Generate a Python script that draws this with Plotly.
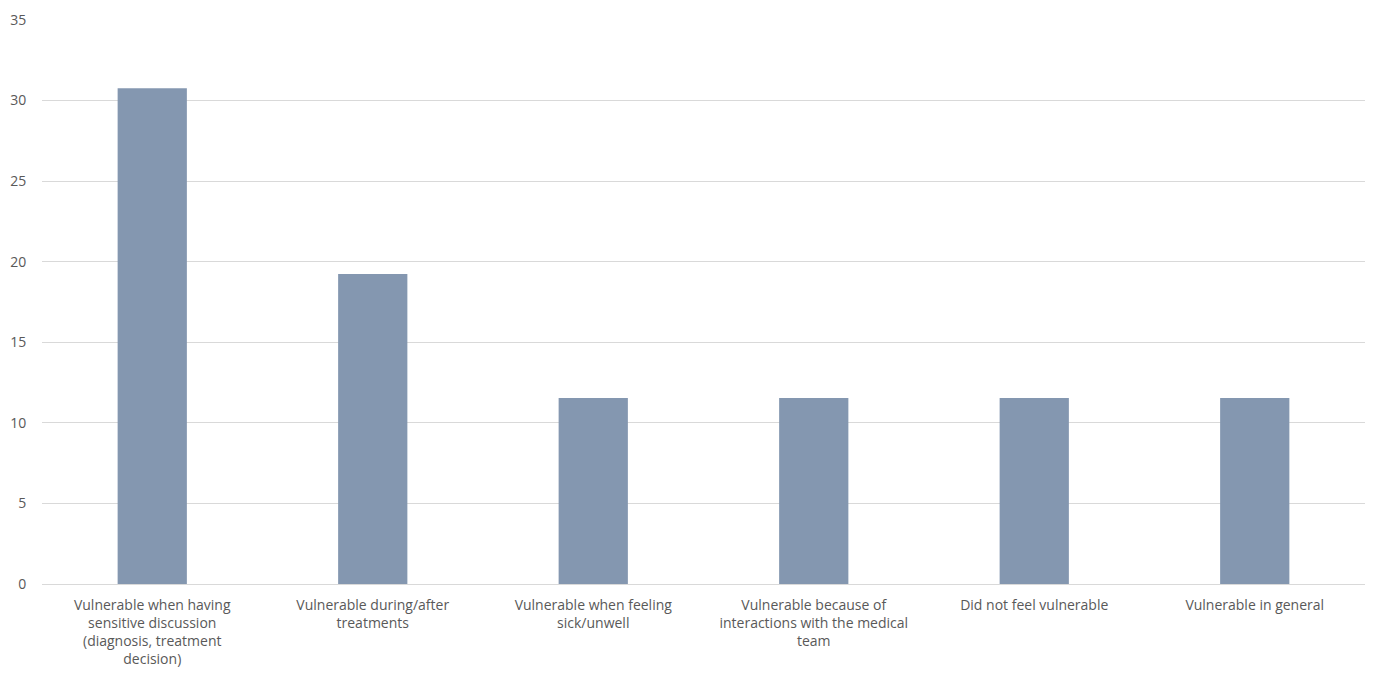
import plotly.graph_objects as go

categories = [
    "Vulnerable when having<br>sensitive discussion<br>(diagnosis, treatment<br>decision)",
    "Vulnerable during/after<br>treatments",
    "Vulnerable when feeling<br>sick/unwell",
    "Vulnerable because of<br>interactions with the medical<br>team",
    "Did not feel vulnerable",
    "Vulnerable in general",
]
values = [30.77, 19.23, 11.54, 11.54, 11.54, 11.54]
y_ticks = [0, 5, 10, 15, 20, 25, 30, 35]

fig = go.Figure(go.Bar(x=categories, y=values, marker_color="#8497B0", marker_line_width=0))
fig.update_layout(
    width=1375, height=679,
    margin=dict(l=42, r=10, t=14, b=95),
    plot_bgcolor="white", paper_bgcolor="white",
    bargap=0.686,
    font=dict(family="'Open Sans', sans-serif", size=14, color="#595959"),
    showlegend=False,
)
fig.update_yaxes(range=[0, 35], tickvals=y_ticks, showgrid=True, gridcolor="#d9d9d9",
                 gridwidth=1, zeroline=False, showline=False, ticks="outside",
                 ticklen=12, tickcolor="rgba(0,0,0,0)")
fig.update_xaxes(showline=True, linecolor="#d9d9d9", linewidth=1, ticks="outside",
                 ticklen=8, tickcolor="rgba(0,0,0,0)", tickangle=0)
fig.write_html("out.html")
